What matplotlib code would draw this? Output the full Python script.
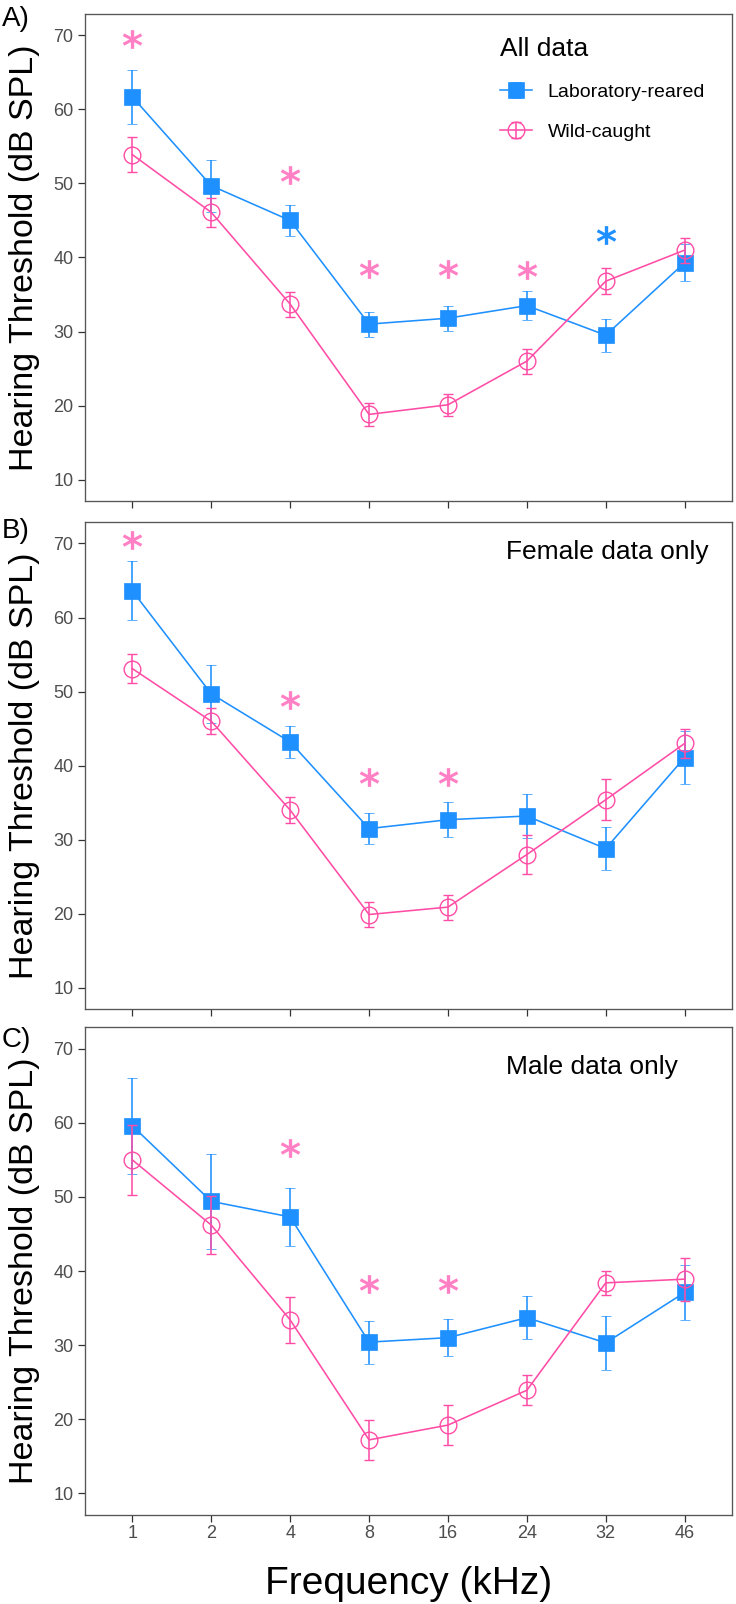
import numpy as np
import matplotlib.pyplot as plt
from matplotlib.container import ErrorbarContainer
from matplotlib.legend_handler import HandlerErrorbar

plt.rcParams['font.family'] = ['Liberation Sans', 'DejaVu Sans']

# ================= Data =================
freq_labels = ['1', '2', '4', '8', '16', '24', '32', '46']

# A) all data
lab_all = [61.7, 49.7, 45.0, 31.0, 31.8, 33.5, 29.5, 39.3]
lab_all_err = [3.6, 3.5, 2.15, 1.7, 1.7, 2.0, 2.25, 2.5]
wild_all = [53.9, 46.1, 33.7, 18.8, 20.1, 26.0, 36.8, 41.0]
wild_all_err = [2.4, 2.0, 1.7, 1.6, 1.5, 1.7, 1.75, 1.7]
stars_all_pink = ['1', '4', '8', '16', '24']
stars_all_pink_y = [69.5, 51.1, 38.4, 38.5, 38.3]
stars_all_blue = ['32']
stars_all_blue_y = [43.1]

# B) female data only
lab_fem = [63.6, 49.7, 43.2, 31.5, 32.7, 33.2, 28.8, 41.1]
lab_fem_err = [4.0, 3.9, 2.2, 2.05, 2.4, 3.0, 2.9, 3.6]
wild_fem = [53.1, 46.0, 34.0, 19.9, 20.9, 28.0, 35.4, 43.0]
wild_fem_err = [1.95, 1.75, 1.8, 1.7, 1.7, 2.6, 2.8, 2.0]
stars_fem_pink = ['1', '4', '8', '16']
stars_fem_pink_y = [70.5, 48.8, 38.5, 38.4]

# C) male data only
lab_male = [59.6, 49.4, 47.3, 30.4, 31.0, 33.7, 30.3, 37.1]
lab_male_err = [6.45, 6.4, 3.95, 2.9, 2.5, 2.9, 3.65, 3.65]
wild_male = [55.0, 46.2, 33.4, 17.2, 19.2, 23.9, 38.4, 38.9]
wild_male_err = [4.75, 3.9, 3.15, 2.75, 2.7, 2.05, 1.65, 2.9]
stars_male_pink = ['4', '8', '16']
stars_male_pink_y = [56.6, 38.2, 38.2]

# ================= Style =================
blue = '#1E90FF'
pink = '#FF4DA6'
star_pink = '#FF80C4'
frame_col = '#555555'
tick_text = '#4D4D4D'

W, H = 736, 1604
fig = plt.figure(figsize=(W / 100, H / 100), dpi=100)

# panel frames in pixels: (top, bottom)
panel_px = [(14, 501), (522, 1009.3), (1027.3, 1514.7)]
left_px, right_px = 85, 732

x = np.arange(1, len(freq_labels) + 1)


def draw_panel(ax, lab, lab_err, wild, wild_err, stars, show_legend=False):
    ax.errorbar(x, lab, yerr=lab_err, fmt='-s', color=blue, ms=11, mec=blue,
                mew=0.5, lw=1.15, elinewidth=1.15, capsize=3.7, capthick=1.15,
                label='Laboratory-reared', zorder=2)
    ax.errorbar(x, wild, yerr=wild_err, fmt='-o', color=pink, ms=12, mfc='none',
                mec=pink, mew=1.0, lw=1.15, elinewidth=1.15, capsize=3.7,
                capthick=1.15, label='Wild-caught', zorder=3)

    for cats, ys, col in stars:
        sx = [freq_labels.index(c) + 1 for c in cats]
        ax.plot(sx, ys, ls='none', marker=r'$\mathbf{*}$', ms=14, color=col,
                mew=0, zorder=4)

    ax.set_xlim(0.4, 8.6)
    ax.set_ylim(7.1, 72.9)
    ax.set_xticks(x)
    ax.set_xticklabels(freq_labels)
    ax.set_yticks(np.arange(10, 71, 10))

    for s in ax.spines.values():
        s.set_color(frame_col)
        s.set_linewidth(0.95)

    ax.tick_params(axis='both', which='major', direction='out', length=4.8,
                   width=0.9, color='#333333', labelcolor=tick_text, labelsize=13)
    ax.tick_params(axis='y', pad=3.5)
    ax.tick_params(axis='x', pad=2.5)

    if show_legend:
        ax.legend(loc='upper left',
                  bbox_to_anchor=((500 - left_px) / (right_px - left_px), 0.953),
                  title='All data', title_fontsize=19, fontsize=14,
                  frameon=False, borderpad=0, borderaxespad=0,
                  handlelength=1.65, handletextpad=0.8, labelspacing=1.15,
                  alignment='left',
                  handler_map={ErrorbarContainer: HandlerErrorbar(yerr_size=0.4)})


axes = []
for top, bot in panel_px:
    ax = fig.add_axes([left_px / W, 1 - bot / H, (right_px - left_px) / W, (bot - top) / H])
    axes.append(ax)

draw_panel(axes[0], lab_all, lab_all_err, wild_all, wild_all_err,
           [(stars_all_pink, stars_all_pink_y, star_pink),
            (stars_all_blue, stars_all_blue_y, blue)], show_legend=True)
draw_panel(axes[1], lab_fem, lab_fem_err, wild_fem, wild_fem_err,
           [(stars_fem_pink, stars_fem_pink_y, star_pink)])
draw_panel(axes[2], lab_male, lab_male_err, wild_male, wild_male_err,
           [(stars_male_pink, stars_male_pink_y, star_pink)])

axes[0].tick_params(axis='x', labelbottom=False)
axes[1].tick_params(axis='x', labelbottom=False)

axes[1].text(5.74, 68.9, 'Female data only', fontsize=19, ha='left', va='center')
axes[2].text(5.74, 67.6, 'Male data only', fontsize=19, ha='left', va='center')

# axis titles and panel letters
for (top, bot), letter, ly in zip(panel_px, ['A)', 'B)', 'C)'], [18.5, 531, 1040]):
    fig.text(24.5 / W, 1 - (top + bot) / 2 / H, 'Hearing Threshold (dB SPL)',
             rotation=90, fontsize=24.5, ha='center', va='center')
    fig.text(2 / W, 1 - ly / H, letter, fontsize=20, ha='left', va='center')

fig.text((left_px + right_px) / 2 / W, 1 - 1584 / H, 'Frequency (kHz)',
         fontsize=28, ha='center', va='center')

plt.savefig('out.png', dpi=100)
